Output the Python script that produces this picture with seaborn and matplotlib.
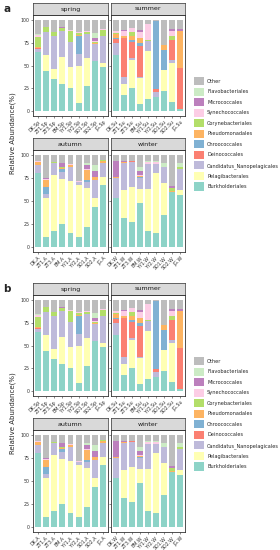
import matplotlib
matplotlib.use("Agg")
import matplotlib.pyplot as plt
from matplotlib.patches import Patch
import seaborn as sns
import pandas as pd
import numpy as np

sns.set_theme(style="white")
plt.rcParams['font.family'] = ['DejaVu Sans']

taxa = ["Burkholderiales", "Pelagibacterales", "Candidatus_Nanopelagicales",
        "Deinococcales", "Chroococcales", "Pseudomonadales", "Corynebacteriales",
        "Synechococcales", "Micrococcales", "Flavobacteriales", "Other"]
colors = ["#8DD3C7", "#FFFFB3", "#BEBADA", "#FB8072", "#80B1D3", "#FDB462",
          "#B3DE69", "#FCCDE5", "#BC80BD", "#CCEBC5", "#BDBDBD"]

sites = ["DK", "ZT1", "ZT3", "BM", "YY1", "YY2", "SD1", "SD2", "JG"]
seasons = ["spring", "summer", "autumn", "winter"]
suffix = {"spring": "Sp", "summer": "Su", "autumn": "A", "winter": "W"}

spring = {
    "Burkholderiales":            [65, 44, 35, 30, 26, 9, 28, 55, 48],
    "Pelagibacterales":           [0, 17, 11, 29, 22, 41, 30, 0, 5],
    "Candidatus_Nanopelagicales": [3, 26, 36, 29, 28, 12, 26, 18, 29],
    "Deinococcales":              [1, 0, 0, 0, 0, 0, 0, 0, 0],
    "Chroococcales":              [0, 0, 0, 0, 0, 20, 0, 0, 0],
    "Pseudomonadales":            [1, 0, 0, 0, 0, 1, 0, 1, 0],
    "Corynebacteriales":          [11, 5, 4, 3, 12, 2, 3, 2, 7],
    "Synechococcales":            [2, 0, 1, 0, 1, 1, 1, 1, 1],
    "Micrococcales":              [0, 0, 0, 1, 0, 0, 0, 3, 0],
    "Flavobacteriales":           [1, 0, 0, 0, 0, 1, 0, 5, 0],
    "Other":                      [16, 8, 13, 8, 11, 13, 12, 15, 10],
}
summer = {
    "Burkholderiales":            [61, 18, 25, 8, 14, 16, 22, 10, 3],
    "Pelagibacterales":           [0, 12, 31, 28, 52, 0, 23, 43, 0],
    "Candidatus_Nanopelagicales": [14, 8, 2, 2, 11, 5, 0, 3, 0],
    "Deinococcales":              [4, 42, 18, 33, 0, 3, 0, 22, 44],
    "Chroococcales":              [1, 0, 2, 4, 0, 74, 22, 0, 0],
    "Pseudomonadales":            [4, 2, 4, 5, 0, 0, 5, 0, 41],
    "Corynebacteriales":          [1, 0, 4, 0, 1, 1, 0, 4, 0],
    "Synechococcales":            [3, 6, 5, 7, 17, 0, 0, 6, 0],
    "Micrococcales":              [0, 1, 0, 2, 0, 0, 0, 2, 2],
    "Flavobacteriales":           [0, 0, 0, 0, 0, 0, 0, 0, 0],
    "Other":                      [12, 11, 9, 11, 5, 1, 28, 10, 10],
}
autumn = {
    "Burkholderiales":            [80, 11, 18, 25, 15, 11, 22, 44, 67],
    "Pelagibacterales":           [0, 42, 60, 49, 57, 56, 42, 9, 9],
    "Candidatus_Nanopelagicales": [9, 5, 13, 7, 15, 4, 6, 20, 15],
    "Deinococcales":              [0, 0, 0, 0, 0, 0, 0, 0, 0],
    "Chroococcales":              [0, 7, 0, 3, 0, 0, 3, 0, 0],
    "Pseudomonadales":            [3, 8, 0, 2, 2, 0, 10, 3, 2],
    "Corynebacteriales":          [0, 0, 1, 1, 0, 0, 0, 0, 1],
    "Synechococcales":            [1, 1, 0, 0, 1, 1, 2, 0, 0],
    "Micrococcales":              [0, 1, 0, 4, 0, 0, 4, 6, 0],
    "Flavobacteriales":           [0, 0, 0, 0, 0, 0, 2, 7, 0],
    "Other":                      [7, 25, 8, 9, 10, 28, 9, 11, 6],
}
winter = {
    "Burkholderiales":            [53, 32, 27, 48, 18, 16, 35, 60, 56],
    "Pelagibacterales":           [0, 30, 38, 15, 45, 64, 34, 0, 6],
    "Candidatus_Nanopelagicales": [22, 29, 27, 12, 27, 10, 18, 0, 22],
    "Deinococcales":              [0, 0, 1, 0, 0, 0, 0, 0, 0],
    "Chroococcales":              [0, 0, 0, 1, 0, 0, 0, 0, 0],
    "Pseudomonadales":            [1, 1, 0, 1, 0, 0, 0, 1, 1],
    "Corynebacteriales":          [0, 0, 0, 0, 0, 0, 0, 3, 2],
    "Synechococcales":            [0, 0, 0, 1, 2, 2, 0, 0, 0],
    "Micrococcales":              [17, 1, 0, 4, 0, 0, 0, 2, 0],
    "Flavobacteriales":           [0, 0, 0, 5, 1, 1, 4, 0, 4],
    "Other":                      [7, 7, 7, 13, 7, 7, 9, 34, 9],
}
season_data = {"spring": spring, "summer": summer, "autumn": autumn, "winter": winter}

W, H = 280, 550
fig = plt.figure(figsize=(W / 100, H / 100), dpi=100)


def rect(x0, y0, x1, y1):
    return [x0 / W, 1 - y1 / H, (x1 - x0) / W, (y1 - y0) / H]


cols = [(33, 108), (111, 185)]
rows = [((3, 15), (15, 116)), ((138, 150), (150, 252))]

for off, letter in [(0, "a"), (280, "b")]:
    for si, season in enumerate(seasons):
        r, c = divmod(si, 2)
        (sy0, sy1), (ay0, ay1) = rows[r]
        x0, x1 = cols[c]
        ax = fig.add_axes(rect(x0, ay0 + off, x1, ay1 + off))
        data = season_data[season]
        labels = [f"{s}.{suffix[season]}" for s in sites]
        df = pd.DataFrame({t: data[t] for t in taxa})
        cum = df.cumsum(axis=1)
        for ti in range(len(taxa) - 1, -1, -1):
            sns.barplot(x=labels, y=cum[taxa[ti]].values, color=colors[ti],
                        saturation=1, width=0.7, errorbar=None, ax=ax,
                        linewidth=0, order=labels)
        ax.set_xlim(-0.6, 8.6)
        ax.set_ylim(-5, 105)
        ax.set_xlabel("")
        ax.set_ylabel("")
        ax.set_yticks([0, 25, 50, 75, 100])
        if c == 0:
            ax.set_yticklabels(["0", "25", "50", "75", "100"])
        else:
            ax.set_yticklabels([])
        ax.set_xticks(range(len(labels)))
        ax.set_xticklabels(labels, rotation=45, ha="right", rotation_mode="anchor")
        ax.tick_params(axis="both", length=1.5, width=0.4, labelsize=3.4,
                       pad=1, left=True, bottom=True)
        ax.tick_params(axis="both", colors="#333333")
        for sp in ax.spines.values():
            sp.set_color("#333333")
            sp.set_linewidth(0.6)
            sp.set_visible(True)
        ax.grid(False)
        sax = fig.add_axes(rect(x0, sy0 + off, x1, sy1 + off))
        sax.set_facecolor("#D9D9D9")
        sax.set_xticks([])
        sax.set_yticks([])
        for sp in sax.spines.values():
            sp.set_color("#333333")
            sp.set_linewidth(0.5)
        sax.text(0.5, 0.5, season, ha="center", va="center", fontsize=4.6,
                 color="#1A1A1A", transform=sax.transAxes)

    fig.text(3 / W, 1 - (9 + off) / H, letter, fontsize=7.5, fontweight="bold",
             ha="left", va="center")
    fig.text(13 / W, 1 - (133 + off) / H, "Relative Abundance(%)", rotation=90,
             fontsize=5, ha="center", va="center")

    handles = [Patch(facecolor=colors[i], edgecolor="none") for i in range(len(taxa) - 1, -1, -1)]
    names = [taxa[i] for i in range(len(taxa) - 1, -1, -1)]
    fig.legend(handles, names, loc="upper left",
               bbox_to_anchor=(194 / W, 1 - (77 + off) / H),
               frameon=False, fontsize=3.6, handlelength=2.0, handleheight=2.1,
               labelspacing=0.5, handletextpad=0.6, borderpad=0, borderaxespad=0)

fig.savefig("out.png", dpi=100)
